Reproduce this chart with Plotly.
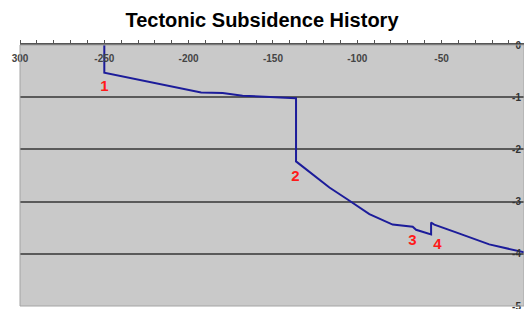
import plotly.graph_objects as go

# Data
age = [-250, -250, -192.6, -179.8, -168.0, -150.2, -136.3, -136.3, -116.5, -105.7,
       -92.8, -79.0, -67.1, -65.1, -56.2, -56.2, -54.3, -41.4, -21.7, 0]
subsidence = [0, -0.53, -0.91, -0.92, -0.97, -1.00, -1.02, -2.23, -2.73, -2.96,
              -3.24, -3.44, -3.48, -3.54, -3.63, -3.40, -3.44, -3.59, -3.82, -3.98]

event_labels = ["1", "2", "3", "4"]
event_x = [-250, -136.7, -67.3, -52.5]
event_y = [-0.80, -2.54, -3.75, -3.84]

x_tickvals = [-300, -250, -200, -150, -100, -50]
x_ticktext = ["300", "-250", "-200", "-150", "-100", "-50"]
y_tickvals = [0, -1, -2, -3, -4, -5]
y_ticktext = ["0", "-1", "-2", "-3", "-4", "-5"]

FONT = "Liberation Sans, Arial, sans-serif"
W, H = 524, 309

fig = go.Figure()
fig.add_trace(go.Scatter(x=age, y=subsidence, mode="lines",
                         line=dict(color="#1c1c9a", width=2), showlegend=False,
                         hoverinfo="skip"))
fig.add_trace(go.Scatter(x=event_x, y=event_y, mode="text", text=event_labels,
                         textfont=dict(color="#ff1a1a", size=15, family=FONT, weight="bold"),
                         showlegend=False, hoverinfo="skip"))

fig.update_layout(
    width=W, height=H,
    margin=dict(l=20, r=0, t=45, b=3, autoexpand=False),
    paper_bgcolor="white",
    plot_bgcolor="#c9c9c9",
    title=dict(text="<b>Tectonic Subsidence History</b>", x=0.5, xanchor="center",
               y=1 - 20 / H, yanchor="middle", yref="container",
               font=dict(family=FONT, size=20, color="black")),
    xaxis=dict(range=[-300, -1.1], side="top", tickvals=x_tickvals, ticktext=x_ticktext,
               ticklabelposition="inside", ticklabeloverflow="allow", ticklabelstandoff=9,
               ticks="outside", ticklen=3, tickcolor="#555", automargin=False,
               minor=dict(dtick=10, ticks="outside", ticklen=3, tickcolor="#555", showgrid=False),
               showgrid=False, zeroline=False, showline=True, linecolor="#555", linewidth=2,
               tickfont=dict(family=FONT, size=10, color="#444", weight="bold")),
    yaxis=dict(range=[-5.0, 0], side="right", tickvals=y_tickvals, ticktext=y_ticktext,
               ticklabelposition="inside", ticklabeloverflow="allow",
               ticks="", showgrid=True, gridcolor="#5a5a5a", automargin=False,
               gridwidth=2, zeroline=False, showline=False,
               tickfont=dict(family=FONT, size=10, color="#333", weight="bold")),
    shapes=[dict(type="rect", xref="paper", yref="paper", x0=0, x1=1, y0=0, y1=1,
                 line=dict(color="#a4a4a4", width=1), layer="above")],
)

fig.write_html("out.html", config={"displayModeBar": False},
               post_script="document.body.style.margin='0';document.body.style.overflow='hidden';")
